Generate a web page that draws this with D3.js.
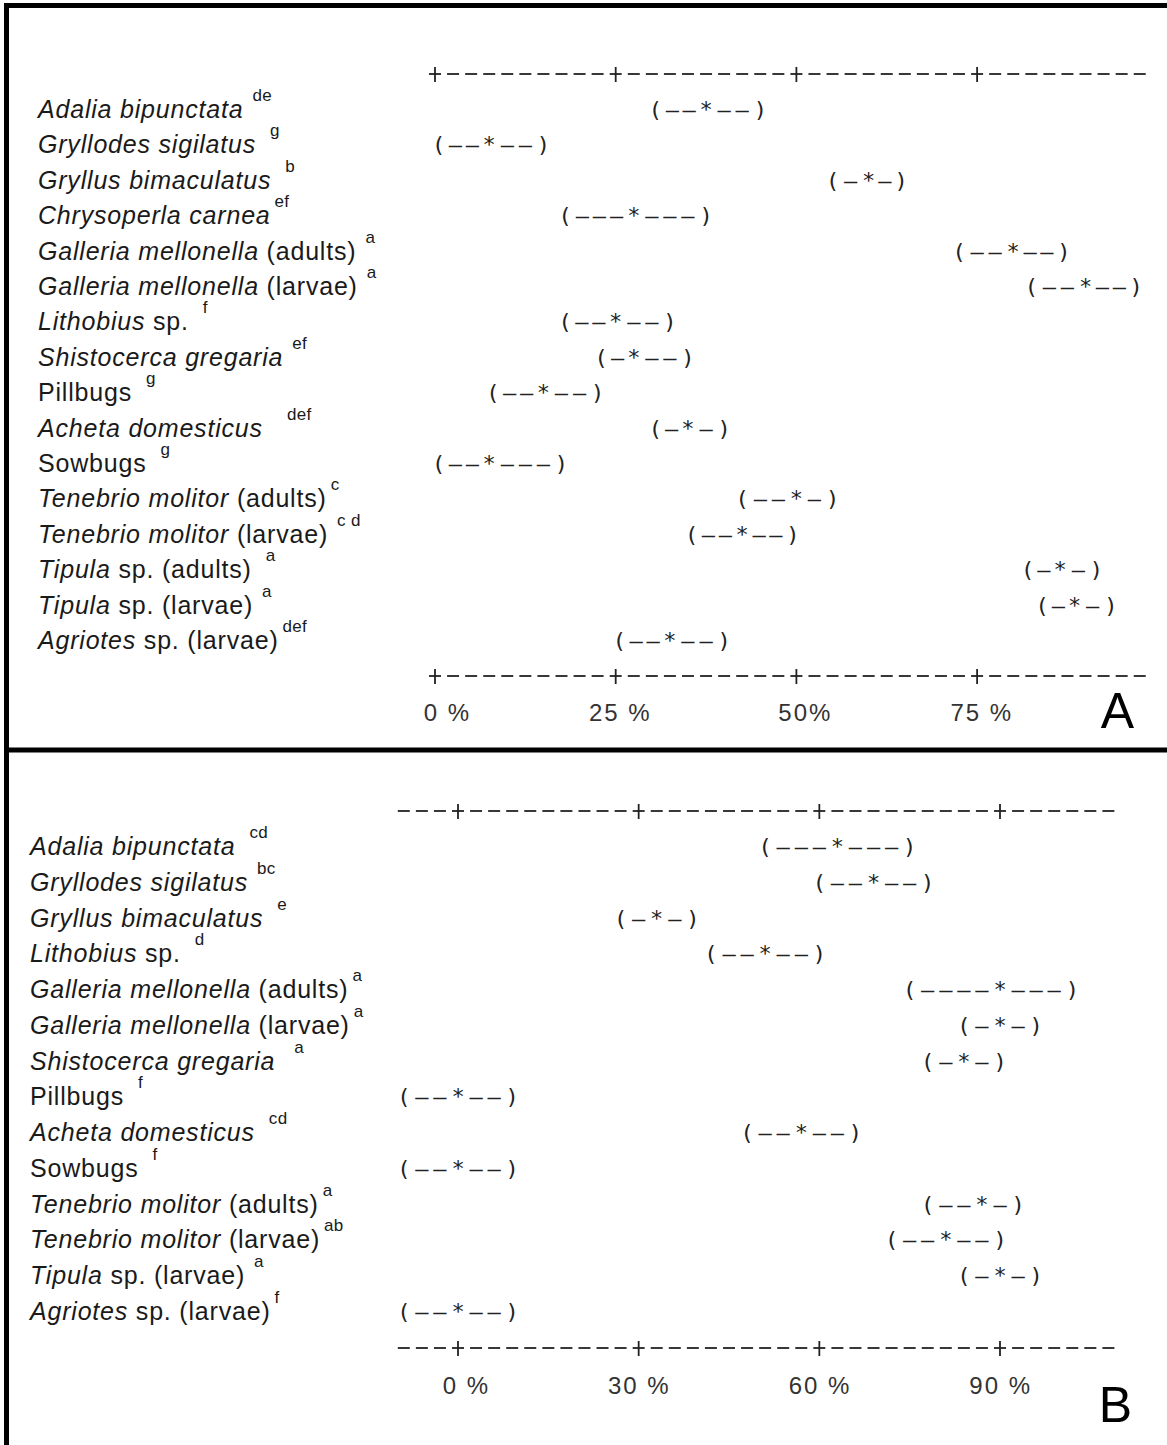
<!DOCTYPE html>
<html lang="en">
<head>
    <meta charset="UTF-8">
    <title>Interval plot A / B</title>
    <style>
        body, html {
            margin: 0;
            padding: 0;
            background-color: #ffffff;
            overflow: hidden;
        }

        .label {
            font-family: "Liberation Sans", Arial, sans-serif;
            font-size: 25px;
            letter-spacing: 0.8px;
            fill: #1a1a1a;
        }

        .sup {
            font-size: 17px;
            letter-spacing: 0.3px;
        }

        .mono {
            font-family: "DejaVu Sans Mono", monospace;
            font-size: 22px;
            fill: #222;
            text-anchor: middle;
        }

        .axis-line {
            stroke: #222;
            stroke-width: 1.8px;
        }

        .tick-label {
            font-family: "Liberation Sans", Arial, sans-serif;
            font-size: 24px;
            fill: #333;
            text-anchor: end;
            letter-spacing: 2px;
        }

        .panel-letter {
            font-family: "Liberation Sans", Arial, sans-serif;
            font-size: 50px;
            fill: #000;
            text-anchor: end;
        }
    </style>
</head>
<body>
    <div id="chart"></div>

    <script src="https://d3js.org/d3.v7.min.js"></script>

    <script>
        // ---- Panel A data ----
        const namesItalicA = [
            "Adalia bipunctata", "Gryllodes sigilatus", "Gryllus bimaculatus", "Chrysoperla carnea",
            "Galleria mellonella", "Galleria mellonella", "Lithobius", "Shistocerca gregaria",
            "", "Acheta domesticus", "", "Tenebrio molitor",
            "Tenebrio molitor", "Tipula", "Tipula", "Agriotes"
        ];
        const namesPlainA = [
            "", "", "", "",
            " (adults)", " (larvae)", " sp.", "",
            "Pillbugs", "", "Sowbugs", " (adults)",
            " (larvae)", " sp. (adults)", " sp. (larvae)", " sp. (larvae)"
        ];
        const lettersA = [
            " de", "  g", "  b", "ef",
            " a", " a", "  f", " ef",
            "  g", "    def", "  g", "c",
            " c d", "  a", " a", "def"
        ];
        const lowA  = [30.5, 0.5, 55, 18, 72.5, 82.5, 18, 23, 8, 30.5, 0.5, 42.5, 35.5, 82, 84, 25.5];
        const meanA = [37.5, 7.5, 60, 27.5, 80, 90, 25, 27.5, 15, 35, 7.5, 50, 42.5, 86.5, 88.5, 32.5];
        const highA = [45, 15, 64.5, 37.5, 87, 97, 32.5, 35, 22.5, 40, 17.5, 55, 49.5, 91.5, 93.5, 40];
        const ticksA = [0, 25, 50, 75];
        const tickLabelsA = ["0 %", "25 %", "50%", "75 %"];
        const axisExtentA = [0, 97.5];
        const stepA = 2.5;

        // ---- Panel B data ----
        const namesItalicB = [
            "Adalia bipunctata", "Gryllodes sigilatus", "Gryllus bimaculatus", "Lithobius",
            "Galleria mellonella", "Galleria mellonella", "Shistocerca gregaria", "",
            "Acheta domesticus", "", "Tenebrio molitor", "Tenebrio molitor",
            "Tipula", "Agriotes"
        ];
        const namesPlainB = [
            "", "", "", " sp.",
            " (adults)", " (larvae)", "", "Pillbugs",
            "", "Sowbugs", " (adults)", " (larvae)",
            " sp. (larvae)", " sp. (larvae)"
        ];
        const lettersB = [
            "  cd", " bc", "  e", "  d",
            "a", "a", "   a", "  f",
            "  cd", "  f", "a", "ab",
            " a", "f"
        ];
        const lowB  = [51, 60, 27, 42, 75, 84, 78, -9, 48, -9, 78, 72, 84, -9];
        const meanB = [63, 69, 33, 51, 90, 90, 84, 0, 57, 0, 87, 81, 90, 0];
        const highB = [75, 78, 39, 60, 102, 96, 90, 9, 66, 9, 93, 90, 96, 9];
        const ticksB = [0, 30, 60, 90];
        const tickLabelsB = ["0 %", "30 %", "60 %", "90 %"];
        const axisExtentB = [-9, 108];
        const stepB = 3;

        const width = 1167, height = 1445;

        const svg = d3.select('#chart').append('svg')
            .attr('width', width)
            .attr('height', height)
            .style('display', 'block');

        // frame: left and top rules, and the divider between panels
        const frame = svg.append('g').attr('stroke', '#000').attr('stroke-width', 5);
        frame.append('line').attr('x1', 6.5).attr('x2', 6.5).attr('y1', 3).attr('y2', height);
        frame.append('line').attr('x1', 4).attr('x2', width).attr('y1', 5.5).attr('y2', 5.5);
        frame.append('line').attr('x1', 4).attr('x2', width).attr('y1', 750).attr('y2', 750);

        function drawPanel(p) {
            const g = svg.append('g');
            const x = d3.scaleLinear().domain(p.xDomain).range(p.xRange);
            const idx = d3.range(p.italic.length);
            const y = d3.scalePoint().domain(idx).range(p.yRange);

            // dashed "+----+" axis rows (dashes every step, crosses at ticks)
            const axisVals = d3.range(p.axisExtent[0], p.axisExtent[1] + p.step / 2, p.step);
            const isTick = v => p.ticks.some(t => Math.abs(t - v) < 1e-6);
            [p.axisTop, p.axisBottom].forEach(ay => {
                const row = g.append('g');
                row.selectAll('line.dash')
                    .data(axisVals)
                    .enter().append('line')
                    .attr('class', 'axis-line')
                    .attr('x1', d => x(d) - 6)
                    .attr('x2', d => x(d) + 6)
                    .attr('y1', ay)
                    .attr('y2', ay);
                row.selectAll('line.cross')
                    .data(axisVals.filter(isTick))
                    .enter().append('line')
                    .attr('class', 'axis-line')
                    .attr('x1', d => x(d))
                    .attr('x2', d => x(d))
                    .attr('y1', ay - 7)
                    .attr('y2', ay + 8);
            });

            // tick labels
            g.selectAll('text.tick-label')
                .data(p.ticks)
                .enter().append('text')
                .attr('class', 'tick-label')
                .attr('x', d => x(d) + p.labelOffset)
                .attr('y', p.tickLabelY)
                .text((d, i) => p.tickLabels[i]);

            // row labels with italic genus and superscript letters
            const lab = g.selectAll('text.label')
                .data(idx)
                .enter().append('text')
                .attr('class', 'label')
                .attr('xml:space', 'preserve')
                .style('white-space', 'pre')
                .attr('x', p.labelX)
                .attr('y', i => y(i) + 8);
            lab.append('tspan')
                .style('font-style', 'italic')
                .text(i => p.italic[i]);
            lab.append('tspan')
                .text(i => p.plain[i]);
            lab.append('tspan')
                .attr('class', 'sup')
                .attr('dx', 4)
                .attr('dy', -17)
                .text(i => p.letters[i]);

            // confidence intervals drawn as Minitab-style characters
            idx.forEach(i => {
                const lo = p.low[i], m = p.mean[i], hi = p.high[i];
                const nL = Math.max(1, Math.round((m - lo) / p.step));
                const nR = Math.max(1, Math.round((hi - m) / p.step));
                const chars = [{ v: lo, c: '(' }];
                for (let k = 1; k < nL; k++) chars.push({ v: lo + k * (m - lo) / nL, c: '\u2013' });
                chars.push({ v: m, c: '*' });
                for (let k = 1; k < nR; k++) chars.push({ v: m + k * (hi - m) / nR, c: '\u2013' });
                chars.push({ v: hi, c: ')' });

                g.append('g').selectAll('text')
                    .data(chars)
                    .enter().append('text')
                    .attr('class', 'mono')
                    .attr('x', d => x(d.v))
                    .attr('y', y(i) + 7)
                    .text(d => d.c);
            });

            g.append('text')
                .attr('class', 'panel-letter')
                .attr('x', p.letterX)
                .attr('y', p.letterY)
                .text(p.letter);
        }

        drawPanel({
            italic: namesItalicA, plain: namesPlainA, letters: lettersA,
            low: lowA, mean: meanA, high: highA,
            ticks: ticksA, tickLabels: tickLabelsA, axisExtent: axisExtentA, step: stepA,
            xDomain: [0, 100], xRange: [435, 435 + 4 * 180.7],
            yRange: [110, 641], axisTop: 74, axisBottom: 676,
            tickLabelY: 721, labelOffset: 36, labelX: 38,
            letter: 'A', letterX: 1134, letterY: 728
        });

        drawPanel({
            italic: namesItalicB, plain: namesPlainB, letters: lettersB,
            low: lowB, mean: meanB, high: highB,
            ticks: ticksB, tickLabels: tickLabelsB, axisExtent: axisExtentB, step: stepB,
            xDomain: [0, 90], xRange: [458, 1000],
            yRange: [847, 1312], axisTop: 811, axisBottom: 1348,
            tickLabelY: 1394, labelOffset: 32, labelX: 30,
            letter: 'B', letterX: 1132, letterY: 1422
        });
    </script>
</body>
</html>
